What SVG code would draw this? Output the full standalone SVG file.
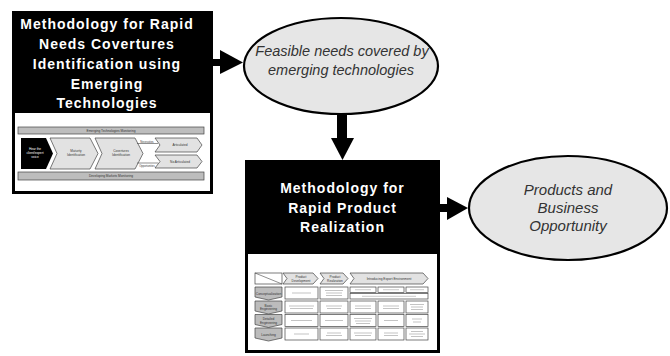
<svg xmlns="http://www.w3.org/2000/svg" width="670" height="356" viewBox="0 0 670 356">
<style>
.title{font-family:"Liberation Sans",Arial,sans-serif;font-weight:bold;font-size:14px;letter-spacing:1px;fill:#fff;text-anchor:middle}
.oval{fill:#e6e6e6;stroke:#000;stroke-width:2.2}
.otext{font-family:"Liberation Sans",Arial,sans-serif;font-style:italic;font-size:15px;fill:#333;text-anchor:middle}
.tiny{font-family:"Liberation Sans",Arial,sans-serif;font-size:3.2px;fill:#333;text-anchor:middle}
.tinyw{font-family:"Liberation Sans",Arial,sans-serif;font-size:3.2px;fill:#fff;text-anchor:middle}
.bar{fill:#bdbdbd;stroke:#444;stroke-width:0.7}
.chev{fill:#e2e2e2;stroke:#444;stroke-width:0.7}
.cell{fill:#fff;stroke:#444;stroke-width:0.7}
.lab{fill:#bcbcbc;stroke:#444;stroke-width:0.7}
.blur{fill:#c4c4c4}
.arrow{fill:#000}
</style>

<g id="connectors">
  <rect class="arrow" x="212" y="59" width="10" height="7"/>
  <polygon class="arrow" points="220,50 243,62.5 220,74"/>
  <rect class="arrow" x="337" y="112" width="10" height="27"/>
  <polygon class="arrow" points="331,138 354,138 342.5,160"/>
  <rect class="arrow" x="439" y="204" width="9" height="8"/>
  <polygon class="arrow" points="447,197 468,208 447,220"/>
</g>

<g id="node-rapid-needs">
  <rect x="12" y="11" width="201" height="183" fill="#000"/>
  <rect x="15" y="113" width="195" height="78" fill="#fff"/>
  <text class="title" x="107" y="29">Methodology for Rapid</text>
  <text class="title" x="107" y="49">Needs Covertures</text>
  <text class="title" x="107" y="69">Identification using</text>
  <text class="title" x="107" y="89">Emerging</text>
  <text class="title" x="107" y="108">Technologies</text>
  <g id="thumb1">
    <rect class="bar" x="18" y="127" width="186" height="7"/>
    <text class="tiny" x="111" y="131.8">Emerging Technologies Monitoring</text>
    <polygon points="21,138 46,138 53,153.5 46,169 21,169" fill="#000"/>
    <text class="tinyw" x="35" y="150">Hear the</text>
    <text class="tinyw" x="35" y="154">client/expert</text>
    <text class="tinyw" x="35" y="158">voice</text>
    <polygon class="chev" points="50,138 90,138 98,153.5 90,169 50,169 57,153.5"/>
    <text class="tiny" x="76" y="152">Maturity</text>
    <text class="tiny" x="76" y="156">Identification</text>
    <polygon class="chev" points="95,138 135,138 143,153.5 135,169 95,169 102,153.5"/>
    <text class="tiny" x="121" y="152">Covertures</text>
    <text class="tiny" x="121" y="156">Identification</text>
    <line x1="137" y1="143.5" x2="158" y2="143.5" stroke="#444" stroke-width="0.6"/>
    <line x1="137" y1="163" x2="158" y2="163" stroke="#444" stroke-width="0.6"/>
    <text class="tiny" x="147" y="142.5" style="font-size:2.6px">Necessities</text>
    <text class="tiny" x="147" y="166.5" style="font-size:2.6px">Opportunities</text>
    <polygon class="chev" points="155,138 197,138 202,145 197,152 155,152 160,145"/>
    <text class="tiny" x="180" y="146">Articulated</text>
    <polygon class="chev" points="155,155 197,155 202,161.5 197,168 155,168 160,161.5"/>
    <text class="tiny" x="180" y="162.7">No Articulated</text>
    <rect class="bar" x="18" y="172" width="186" height="8"/>
    <text class="tiny" x="111" y="177">Developing Markets Monitoring</text>
  </g>
</g>

<g id="node-feasible">
  <ellipse class="oval" cx="341" cy="66" rx="97" ry="48"/>
  <text class="otext" x="342" y="56" style="font-size:14.5px">Feasible needs covered by</text>
  <text class="otext" x="341" y="75" style="font-size:14.5px">emerging technologies</text>
</g>

<g id="node-rapid-product">
  <rect x="245" y="160" width="195" height="193" fill="#000"/>
  <rect x="248" y="254" width="189" height="96" fill="#fff"/>
  <text class="title" x="342.5" y="193">Methodology for</text>
  <text class="title" x="342.5" y="213">Rapid Product</text>
  <text class="title" x="342.5" y="232">Realization</text>
  <g id="thumb2">
    <rect class="cell" x="255" y="273" width="27" height="11"/>
    <line x1="255" y1="273" x2="282" y2="284" stroke="#444" stroke-width="0.6"/>
    <polygon class="chev" points="283,273 313,273 318,278.5 313,284 283,284 287,278.5"/>
    <text class="tiny" x="301" y="278">Product</text>
    <text class="tiny" x="301" y="281.5">Development</text>
    <polygon class="chev" points="320,273 343,273 348,278.5 343,284 320,284 324,278.5"/>
    <text class="tiny" x="335" y="278">Product</text>
    <text class="tiny" x="335" y="281.5">Realization</text>
    <polygon class="chev" points="350,273 423,273 428,278.5 423,284 350,284 354,278.5"/>
    <text class="tiny" x="389" y="279.6">Introducing Export Environment</text>

    <polygon class="lab" points="255,287 282,287 282,297 268.5,300 255,297"/>
    <text class="tiny" x="268.5" y="294.5">Conceptualization</text>
    <polygon class="lab" points="255,301 282,301 282,311 268.5,314 255,311"/>
    <text class="tiny" x="268.5" y="306.5">Basic</text>
    <text class="tiny" x="268.5" y="310">Engineering</text>
    <polygon class="lab" points="255,314.5 282,314.5 282,324.5 268.5,327.5 255,324.5"/>
    <text class="tiny" x="268.5" y="320">Detailed</text>
    <text class="tiny" x="268.5" y="323.5">Engineering</text>
    <polygon class="lab" points="255,328 282,328 282,338 268.5,341 255,338"/>
    <text class="tiny" x="268.5" y="335.5">Launching</text>

    <rect class="cell" x="285" y="287" width="33" height="12"/>
    <rect class="cell" x="320" y="287" width="28" height="12"/>
    <rect class="cell" x="350" y="287" width="26" height="5.5"/>
    <rect class="cell" x="378" y="287" width="26" height="5.5"/>
    <rect class="cell" x="406" y="287" width="22" height="5.5"/>
    <rect class="cell" x="350" y="293.5" width="78" height="5.5"/>

    <rect class="cell" x="285" y="301" width="33" height="12"/>
    <rect class="cell" x="320" y="301" width="28" height="12"/>
    <rect class="cell" x="350" y="301" width="26" height="12"/>
    <rect class="cell" x="378" y="301" width="26" height="12"/>
    <rect class="cell" x="406" y="301" width="22" height="12"/>

    <rect class="cell" x="285" y="314.5" width="33" height="12"/>
    <rect class="cell" x="320" y="314.5" width="28" height="12"/>
    <rect class="cell" x="350" y="314.5" width="26" height="12"/>
    <rect class="cell" x="378" y="314.5" width="26" height="12"/>
    <rect class="cell" x="406" y="314.5" width="22" height="12"/>

    <rect class="cell" x="285" y="328" width="33" height="12"/>
    <rect class="cell" x="320" y="328" width="28" height="12"/>
    <rect class="cell" x="350" y="328" width="26" height="12"/>
    <rect class="cell" x="378" y="328" width="26" height="12"/>
    <rect class="cell" x="406" y="328" width="22" height="12"/>

    <g class="blur">
      <rect x="292" y="292.5" width="19" height="1"/>
      <rect x="325" y="290" width="18" height="1"/><rect x="326" y="292.5" width="16" height="1"/><rect x="326" y="295" width="16" height="1"/>
      <rect x="355" y="289.3" width="16" height="0.9"/>
      <rect x="383" y="289.3" width="16" height="0.9"/>
      <rect x="410" y="289.3" width="14" height="0.9"/>
      <rect x="362" y="295.8" width="54" height="0.9"/>
      <rect x="289" y="305.5" width="25" height="1"/><rect x="290" y="308" width="23" height="1"/>
      <rect x="326" y="305.5" width="16" height="1"/><rect x="327" y="308" width="14" height="1"/>
      <rect x="355" y="305.5" width="16" height="1"/><rect x="355" y="308" width="16" height="1"/>
      <rect x="383" y="305.5" width="16" height="1"/><rect x="383" y="308" width="16" height="1"/>
      <rect x="410" y="304" width="14" height="1"/><rect x="411" y="306.5" width="12" height="1"/><rect x="411" y="309" width="12" height="1"/>
      <rect x="291" y="320" width="21" height="1"/>
      <rect x="325" y="320" width="18" height="1"/>
      <rect x="354" y="318" width="18" height="1"/><rect x="355" y="320.5" width="16" height="1"/><rect x="356" y="323" width="14" height="1"/>
      <rect x="384" y="320" width="14" height="1"/>
      <rect x="412" y="318.5" width="10" height="1"/><rect x="413" y="321.5" width="8" height="1"/>
      <rect x="294" y="333.5" width="15" height="1"/>
      <rect x="327" y="332.5" width="14" height="1"/><rect x="326" y="335" width="16" height="1"/>
      <rect x="354" y="332.5" width="18" height="1"/><rect x="355" y="335" width="16" height="1"/>
      <rect x="384" y="332.5" width="14" height="1"/><rect x="384" y="335" width="14" height="1"/>
      <rect x="411" y="331" width="12" height="1"/><rect x="409" y="333.5" width="16" height="1"/><rect x="411" y="336" width="12" height="1"/>
    </g>
  </g>
</g>

<g id="node-products">
  <ellipse class="oval" cx="568" cy="208" rx="99" ry="52"/>
  <text class="otext" x="568" y="195">Products and</text>
  <text class="otext" x="568" y="213">Business</text>
  <text class="otext" x="568" y="231">Opportunity</text>
</g>
</svg>
